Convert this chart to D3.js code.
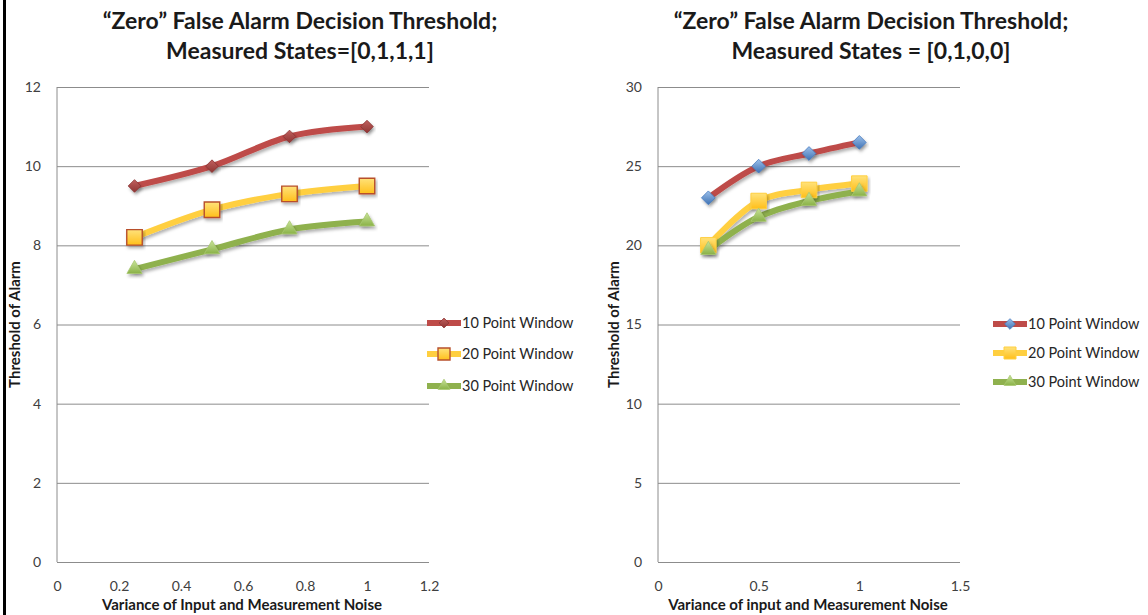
<!DOCTYPE html>
<html>
<head>
<meta charset="utf-8">
<script src="https://cdn.jsdelivr.net/npm/d3@7"></script>
<style>
  html, body { margin: 0; padding: 0; background: #fff; }
  svg { display: block; }
  text { font-family: Lato, "Open Sans", "DejaVu Sans", sans-serif; }
</style>
</head>
<body>
<svg id="chart" width="1148" height="615"></svg>
<script>
// Noise variance levels shared by both panels
const xValues = [0.25, 0.5, 0.75, 1];
const seriesNames = ["10 Point Window", "20 Point Window", "30 Point Window"];

// Panel 1: measured states [0,1,1,1]
const leftTen    = [9.5, 10, 10.75, 11];
const leftTwenty = [8.2, 8.9, 9.3, 9.5];
const leftThirty = [7.4, 7.9, 8.4, 8.6];
const leftXTicks = [0, 0.2, 0.4, 0.6, 0.8, 1, 1.2];
const leftYTicks = [0, 2, 4, 6, 8, 10, 12];

// Panel 2: measured states [0,1,0,0]
const rightTen    = [23, 25, 25.8, 26.5];
const rightTwenty = [20, 22.8, 23.5, 23.9];
const rightThirty = [19.7, 21.8, 22.8, 23.4];
const rightXTicks = [0, 0.5, 1, 1.5];
const rightYTicks = [0, 5, 10, 15, 20, 25, 30];

const svg = d3.select("#chart");
svg.append("rect").attr("width", 1148).attr("height", 615).attr("fill", "#fff");

// soft shadow under the series lines
const defs = svg.append("defs");
const f = defs.append("filter").attr("id", "shadow")
  .attr("x", "-20%").attr("y", "-20%").attr("width", "140%").attr("height", "160%");
f.append("feDropShadow").attr("dx", 1.5).attr("dy", 2.5)
  .attr("stdDeviation", 1.6).attr("flood-color", "#000").attr("flood-opacity", 0.3);

function grad(id, c1, c2) {
  const g = defs.append("linearGradient").attr("id", id)
    .attr("x1", 0).attr("y1", 0).attr("x2", 0).attr("y2", 1);
  g.append("stop").attr("offset", "0%").attr("stop-color", c1);
  g.append("stop").attr("offset", "100%").attr("stop-color", c2);
}
grad("gRed", "#c0605e", "#8f3533");
grad("gBlue", "#9cc0ea", "#3e72b4");
grad("gYel", "#ffe27a", "#ffbf1a");
grad("gGrn", "#c9e39a", "#8ab247");

// left frame edge
svg.append("rect").attr("x", 3).attr("y", 0).attr("width", 3).attr("height", 615).attr("fill", "#000");

const diamond = {
  draw(ctx, size) {
    const r = Math.sqrt(size) / 2;
    ctx.moveTo(0, -r); ctx.lineTo(r, 0); ctx.lineTo(0, r); ctx.lineTo(-r, 0); ctx.closePath();
  }
};

function drawPanel(cfg) {
  const g = svg.append("g");
  const x = d3.scaleLinear().domain(cfg.xDomain).range([cfg.left, cfg.right]);
  const y = d3.scaleLinear().domain(cfg.yDomain).range([cfg.bottom, cfg.top]);
  const w = cfg.right - cfg.left;

  // horizontal gridlines
  g.append("g").attr("transform", `translate(${cfg.left},0)`)
    .call(d3.axisLeft(y).tickValues(cfg.yTicks).tickSize(-w).tickFormat(""))
    .call(a => a.select(".domain").remove())
    .call(a => a.selectAll("line").attr("stroke", "#8c8c8c").attr("stroke-width", 1));

  // vertical axis line
  g.append("line").attr("x1", cfg.left).attr("x2", cfg.left)
    .attr("y1", cfg.top).attr("y2", cfg.bottom).attr("stroke", "#8c8c8c");

  // y tick labels
  g.append("g").attr("transform", `translate(${cfg.left - 13},0)`)
    .call(d3.axisLeft(y).tickValues(cfg.yTicks).tickSize(0).tickFormat(d3.format("d")))
    .call(a => a.select(".domain").remove())
    .call(a => a.selectAll("text").attr("font-size", 14).attr("fill", "#404040")
      .attr("font-family", "Lato, sans-serif"));

  // x tick labels
  g.append("g").attr("transform", `translate(0,${cfg.bottom + 16})`)
    .call(d3.axisBottom(x).tickValues(cfg.xTicks).tickSize(0).tickFormat(d => String(d)))
    .call(a => a.select(".domain").remove())
    .call(a => a.selectAll("text").attr("font-size", 14).attr("fill", "#404040")
      .attr("font-family", "Lato, sans-serif"));

  // titles
  cfg.title.forEach((t, i) => {
    g.append("text").attr("x", cfg.titleX).attr("y", 29 + i * 30)
      .attr("text-anchor", "middle").attr("font-size", 23).attr("font-weight", 700)
      .attr("fill", "#1a1a1a").text(t);
  });
  g.append("text").attr("x", cfg.xTitleX).attr("y", 610)
    .attr("text-anchor", "middle").attr("font-size", 15).attr("font-weight", 700)
    .attr("fill", "#1a1a1a").text(cfg.xTitle);
  g.append("text")
    .attr("transform", `translate(${cfg.yTitleX},${(cfg.top + cfg.bottom) / 2}) rotate(-90)`)
    .attr("text-anchor", "middle").attr("font-size", 15).attr("font-weight", 700)
    .attr("fill", "#1a1a1a").text("Threshold of Alarm");

  const line = d3.line().x(d => x(d[0])).y(d => y(d[1])).curve(d3.curveCatmullRom.alpha(0.5));

  cfg.series.forEach((s, i) => {
    const pts = xValues.map((v, j) => [v, s.values[j]]);
    g.append("path").datum(pts).attr("d", line)
      .attr("fill", "none").attr("stroke", s.color).attr("stroke-width", 6)
      .attr("stroke-linejoin", "round").attr("stroke-linecap", "round")
      .attr("filter", "url(#shadow)");
  });
  cfg.series.forEach((s) => {
    const sym = d3.symbol().type(s.shape).size(s.size);
    g.selectAll(null).data(xValues.map((v, j) => [v, s.values[j]])).join("path")
      .attr("transform", d => `translate(${x(d[0])},${y(d[1])})`)
      .attr("d", sym).attr("fill", s.fill).attr("stroke", s.stroke).attr("stroke-width", s.sw)
      .attr("filter", "url(#shadow)");
  });

  // legend
  cfg.series.forEach((s, i) => {
    const ly = cfg.legendY[i];
    const lg = g.append("g");
    lg.append("line").attr("x1", cfg.legendX).attr("x2", cfg.legendX + 34)
      .attr("y1", ly).attr("y2", ly).attr("stroke", s.color).attr("stroke-width", 6);
    lg.append("path").attr("transform", `translate(${cfg.legendX + 17},${ly})`)
      .attr("d", d3.symbol().type(s.shape).size(s.size * 0.6))
      .attr("fill", s.fill).attr("stroke", s.stroke).attr("stroke-width", s.sw);
    lg.append("text").attr("x", cfg.legendX + 35).attr("y", ly).attr("dy", "0.35em")
      .attr("font-size", cfg.legendSize).attr("fill", "#262626").text(seriesNames[i]);
  });
}

drawPanel({
  left: 57, right: 429, top: 87, bottom: 562,
  xDomain: [0, 1.2], yDomain: [0, 12], xTicks: leftXTicks, yTicks: leftYTicks,
  title: ["\u201CZero\u201D False Alarm Decision Threshold;", "Measured States=[0,1,1,1]"],
  titleX: 300, xTitleX: 242, yTitleX: 20,
  xTitle: "Variance  of Input and Measurement  Noise",
  legendX: 427, legendY: [323, 354, 386], legendSize: 14.5,
  series: [
    { values: leftTen, color: "#be4b48", shape: diamond, size: 160, fill: "url(#gRed)", stroke: "#8a3432", sw: 0.8 },
    { values: leftTwenty, color: "#ffcf40", shape: d3.symbolSquare, size: 240, fill: "url(#gYel)", stroke: "#b8502c", sw: 1.4 },
    { values: leftThirty, color: "#8fb14e", shape: d3.symbolTriangle, size: 100, fill: "url(#gGrn)", stroke: "#a8c870", sw: 0.8 }
  ]
});

drawPanel({
  left: 658, right: 960, top: 87, bottom: 562,
  xDomain: [0, 1.5], yDomain: [0, 30], xTicks: rightXTicks, yTicks: rightYTicks,
  title: ["\u201CZero\u201D False Alarm Decision Threshold;", "Measured States = [0,1,0,0]"],
  titleX: 871, xTitleX: 808, yTitleX: 619,
  xTitle: "Variance  of input and Measurement Noise",
  legendX: 993, legendY: [324, 353, 382], legendSize: 14.5,
  series: [
    { values: rightTen, color: "#be4b48", shape: diamond, size: 190, fill: "url(#gBlue)", stroke: "#4a7cc0", sw: 0.8 },
    { values: rightTwenty, color: "#ffcf40", shape: d3.symbolSquare, size: 240, fill: "url(#gYel)", stroke: "#ffcf40", sw: 1 },
    { values: rightThirty, color: "#8fb14e", shape: d3.symbolTriangle, size: 100, fill: "url(#gGrn)", stroke: "#a8c870", sw: 0.8 }
  ]
});
</script>
</body>
</html>
